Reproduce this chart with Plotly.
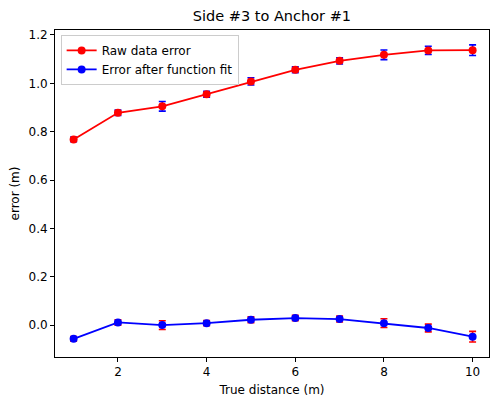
import plotly.graph_objects as go

distance = [1, 2, 3, 4, 5, 6, 7, 8, 9, 10]
raw_error = [0.768, 0.878, 0.905, 0.955, 1.008, 1.056, 1.093, 1.118, 1.136, 1.137]
raw_std = [0.010, 0.011, 0.020, 0.012, 0.015, 0.012, 0.013, 0.020, 0.017, 0.022]
fit_error = [-0.057, 0.011, 0.000, 0.008, 0.022, 0.029, 0.025, 0.008, -0.012, -0.048]
fit_std = [0.010, 0.011, 0.018, 0.011, 0.012, 0.011, 0.012, 0.018, 0.016, 0.022]

font = "DejaVu Sans, sans-serif"

fig = go.Figure()
fig.add_trace(go.Scatter(
    x=distance, y=raw_error, mode="lines+markers", name="Raw data error",
    line=dict(color="red", width=1.8),
    marker=dict(color="red", size=8, symbol="circle"),
    error_y=dict(type="data", array=raw_std, visible=True, color="blue", thickness=1.6, width=3.5),
))
fig.add_trace(go.Scatter(
    x=distance, y=fit_error, mode="lines+markers", name="Error after function fit",
    line=dict(color="blue", width=1.8),
    marker=dict(color="blue", size=8, symbol="circle"),
    error_y=dict(type="data", array=fit_std, visible=True, color="red", thickness=1.6, width=3.5),
))

fig.update_layout(
    width=490, height=401,
    margin=dict(l=55, r=1, t=30, b=44),
    paper_bgcolor="white", plot_bgcolor="white",
    font=dict(family=font, size=12, color="black"),
    title=dict(text="Side #3 to Anchor #1", x=0.555, xanchor="center", y=0.972, yanchor="top",
               font=dict(size=14.5, color="black")),
    showlegend=True,
    legend=dict(x=0.013, y=0.985, xanchor="left", yanchor="top",
                bgcolor="rgba(255,255,255,0.8)", bordercolor="#cccccc", borderwidth=1,
                font=dict(size=12), tracegroupgap=0, itemwidth=30),
)
fig.update_xaxes(
    range=[0.58, 10.37], tickvals=[2, 4, 6, 8, 10], showgrid=False, zeroline=False,
    showline=True, linecolor="black", linewidth=1, mirror=True,
    ticks="outside", ticklen=4, tickcolor="black",
    title=dict(text="True distance (m)", font=dict(size=12), standoff=7),
)
fig.update_yaxes(
    range=[-0.132, 1.2205], tickvals=[0.0, 0.2, 0.4, 0.6, 0.8, 1.0, 1.2], tickformat=".1f",
    showgrid=False, zeroline=False,
    showline=True, linecolor="black", linewidth=1, mirror=True,
    ticks="outside", ticklen=4, tickcolor="black",
    title=dict(text="error (m)", font=dict(size=12), standoff=6),
)

fig.write_html("out.html", config={"displayModeBar": False},
               post_script="document.body.style.margin='0';document.body.style.overflow='hidden';")
